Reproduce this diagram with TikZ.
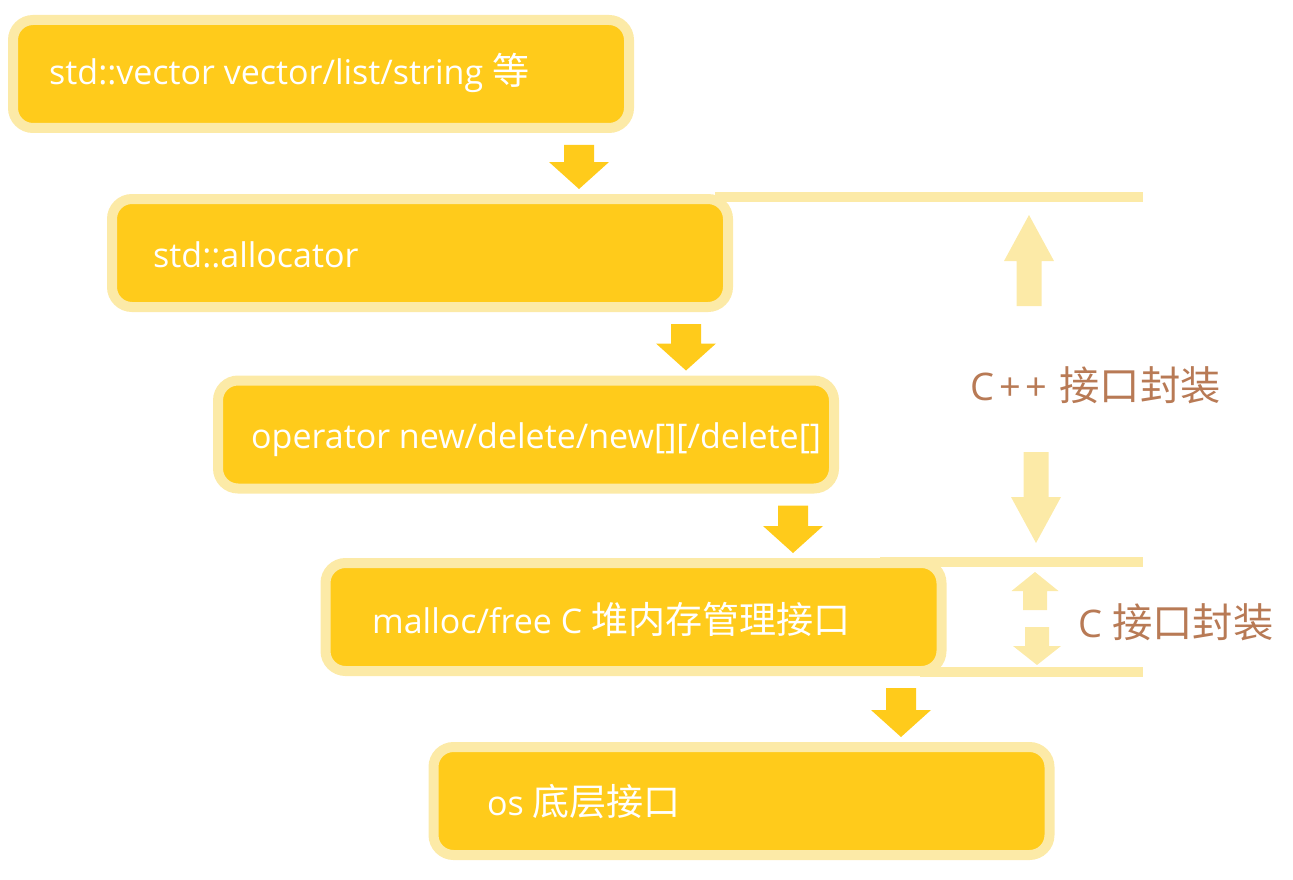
\documentclass[tikz,border=0pt]{standalone}
\usepackage{fontspec}
\setmainfont{Open Sans}
\newfontfamily\cjk[Scale=1.09]{Noto Sans CJK SC}
\usetikzlibrary{calc}
\definecolor{boxfill}{HTML}{FFCB1B}
\definecolor{boxborder}{HTML}{FCEAA7}
\definecolor{labelbrown}{HTML}{B87A55}
\tikzset{
  box/.style={rounded corners=20pt, fill=boxfill, draw=boxborder, line width=10pt,
              inner sep=0pt, minimum width=616pt, minimum height=108pt},
  boxtext/.style={anchor=base west, inner sep=0pt, text=white,
                  font=\fontsize{34}{40}\selectfont},
  sidetext/.style={anchor=base west, inner sep=0pt, text=labelbrown,
                  font=\fontsize{38}{44}\selectfont},
  sideline/.style={draw=boxborder, line width=10pt},
  darkarrow/.style={fill=boxfill},
  lightarrow/.style={fill=boxborder}
}
% block arrow: cx, shaft end, head base, tip, shaft half width, head half width, style
\newcommand\blk[7]{%
  \fill[#7] (#1-#5,#2) -- (#1+#5,#2) -- (#1+#5,#3) -- (#1+#6,#3) -- (#1,#4)
    -- (#1-#6,#3) -- (#1-#5,#3) -- cycle;}
% block arrow between two named boxes at horizontal position #3
\newcommand\blkconn[3]{%
  \fill[darkarrow] let \p1=(#1.south), \p2=(#2.north) in
    (#3pt-15pt,\y1-12pt) -- (#3pt+15pt,\y1-12pt) -- (#3pt+15pt,\y2+32pt)
    -- (#3pt+30pt,\y2+32pt) -- (#3pt,\y2+5pt) -- (#3pt-30pt,\y2+32pt)
    -- (#3pt-15pt,\y2+32pt) -- cycle;}
\begin{document}
\begin{tikzpicture}[x=1pt,y=-1pt]
\useasboundingbox (0,0) rectangle (1293,880);
% side bracket lines
\coordinate (l1a) at (715,197); \coordinate (l1b) at (1143,197);
\coordinate (l2a) at (880,562); \coordinate (l2b) at (1143,562);
\coordinate (l3a) at (920,672); \coordinate (l3b) at (1143,672);
\draw[sideline] (l1a) -- (l1b);
\draw[sideline] (l2a) -- (l2b);
\draw[sideline] (l3a) -- (l3b);
% boxes
\node[box] (b1) at (321,74) {};
\node[box] (b2) at (420,253) {};
\node[box] (b3) at (526,434.5) {};
\node[box] (b4) at (633.5,617) {};
\node[box] (b5) at (741.5,801) {};
% texts
\node[boxtext] (t1) at (49,85) {std::vector vector/list/string {\cjk 等}};
\node[boxtext] (t2) at (153,267) {std::allocator};
\node[boxtext] (t3) at (251,448) {operator new/delete/new[][/delete[]};
\node[boxtext] (t4) at (372,633) {malloc/free C {\cjk 堆内存管理接口}};
\node[boxtext] (t5) at (487,815) {os {\cjk 底层接口}};
% arrows between boxes
\blkconn{b1}{b2}{579}
\blkconn{b2}{b3}{686}
\blkconn{b3}{b4}{793}
\blkconn{b4}{b5}{901}
% side arrows
\blk{1029}{306}{261}{215}{12.5}{25}{lightarrow}
\blk{1036}{452}{497}{543}{12.5}{25}{lightarrow}
\blk{1035}{610}{591}{572}{12}{23.5}{lightarrow}
\blk{1037}{627}{646}{665}{12}{24}{lightarrow}
% side labels
\node[sidetext] (s1) at (970,400) {C\kern5pt+\kern5pt+\kern2pt{} {\cjk\fontsize{37}{44}\selectfont 接口封装}};
\node[sidetext] (s2) at (1078,637) {C {\cjk\fontsize{37}{44}\selectfont 接口封装}};
\end{tikzpicture}
\end{document}
